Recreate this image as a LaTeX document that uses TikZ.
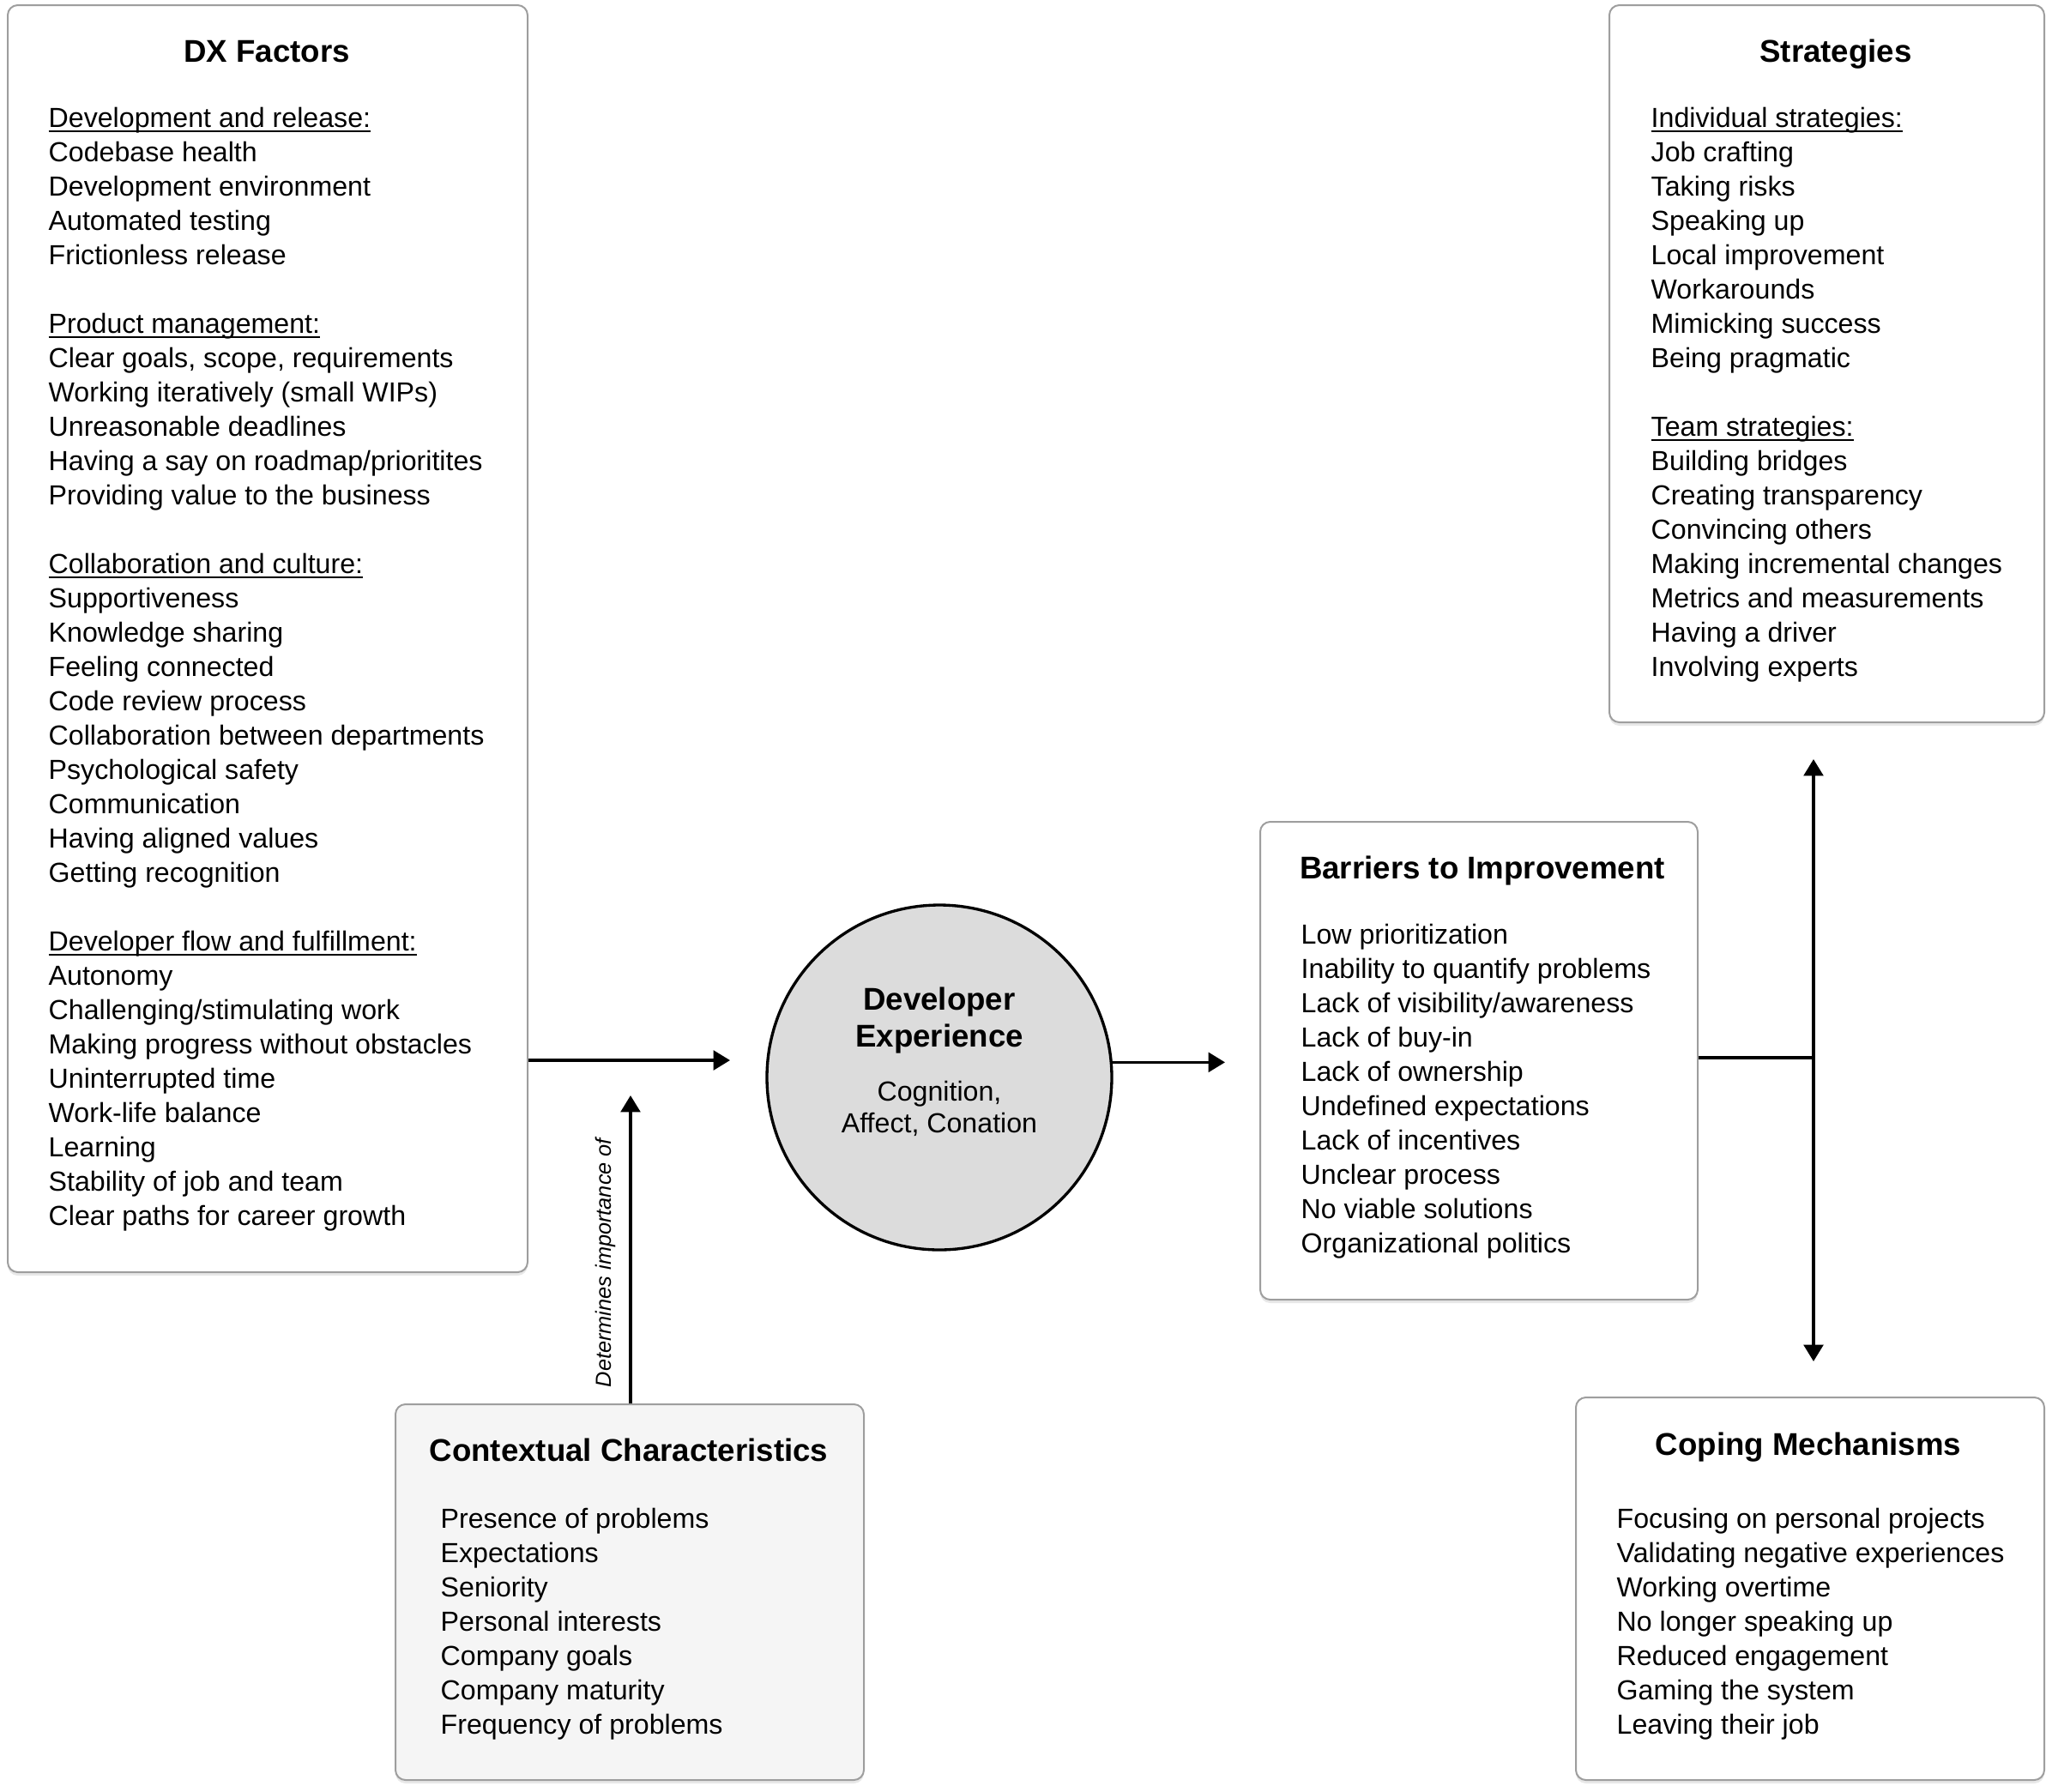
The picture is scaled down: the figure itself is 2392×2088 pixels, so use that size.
\documentclass[tikz,border=0pt]{standalone}
\usepackage{fontspec}
\setmainfont{Liberation Sans}
\usetikzlibrary{arrows.meta,shadows}
\definecolor{boxline}{HTML}{9E9E9E}
\definecolor{ctxfill}{HTML}{F5F5F5}
\definecolor{devfill}{HTML}{DCDCDC}
\newcommand\ulx[1]{\leavevmode\setbox0\hbox{#1}\rlap{\rule[-1.7pt]{\wd0}{0.55pt}}\box0}
\begin{document}
\begin{tikzpicture}[x=0.3pt,y=-0.3pt,
  panel/.style={draw=boxline, line width=0.6pt, rounded corners=3.5pt, fill=white, inner sep=0pt,
    drop shadow={opacity=0.18, shadow xshift=0pt, shadow yshift=-1.2pt}},
  ttl/.style={font=\fontsize{11pt}{13pt}\selectfont\bfseries, inner sep=0pt, anchor=base},
  item/.style={font=\fontsize{9.65pt}{12pt}\selectfont, inner sep=0pt, anchor=base west},
  citem/.style={font=\fontsize{9.65pt}{12pt}\selectfont, inner sep=0pt, anchor=base},
  arr/.style={line width=1pt, -{Triangle[length=5.8pt,width=6.8pt]}},
  conn/.style={line width=1pt}]
\useasboundingbox (0,0) rectangle (2392,2088);

% boxes
\node[panel, minimum width=181.8pt, minimum height=443.1pt] (dx) at (312,744.5) {};
\node[panel, minimum width=152.1pt, minimum height=250.8pt] (str) at (2129.5,424) {};
\node[panel, minimum width=153pt, minimum height=167.1pt] (bar) at (1724,1236.5) {};
\node[panel, fill=ctxfill, minimum width=163.8pt, minimum height=131.4pt] (ctx) at (734,1856) {};
\node[panel, minimum width=163.8pt, minimum height=133.8pt] (cop) at (2110,1852) {};
\node[circle, draw, line width=1pt, fill=devfill, minimum size=120.6pt, inner sep=0pt] (dev) at (1095,1256) {};

% titles
\node[ttl] (dxt) at (311,72) {DX Factors};
\node[ttl] (strt) at (2140,72) {Strategies};
\node[ttl] (bart) at (1728,1024) {Barriers to Improvement};
\node[ttl] (ctxt) at (733,1703) {Contextual Characteristics};
\node[ttl] (copt) at (2108,1696) {Coping Mechanisms};

% circle text
\node[ttl] (dev1) at (1095,1177) {Developer};
\node[ttl] (dev2) at (1095,1220) {Experience};
\node[citem] (dev3) at (1095,1283) {Cognition,};
\node[citem] (dev4) at (1095,1320) {Affect, Conation};

% DX factors lists
\foreach \t [count=\i from 0] in {\ulx{Development and release:}, Codebase health, Development environment, Automated testing, Frictionless release}
  \node[item] (dx\i) at (56,{148+\i*40}) {\t};
\foreach \t [count=\i from 6] in {\ulx{Product management:}, {Clear goals, scope, requirements}, Working iteratively (small WIPs), Unreasonable deadlines, Having a say on roadmap/prioritites, Providing value to the business}
  \node[item] (dx\i) at (56,{148+\i*40}) {\t};
\foreach \t [count=\i from 13] in {\ulx{Collaboration and culture:}, Supportiveness, Knowledge sharing, Feeling connected, Code review process, Collaboration between departments, Psychological safety, Communication, Having aligned values, Getting recognition}
  \node[item] (dx\i) at (56,{148+\i*40}) {\t};
\foreach \t [count=\i from 24] in {\ulx{Developer flow and fulfillment:}, Autonomy, Challenging/stimulating work, Making progress without obstacles, Uninterrupted time, Work-life balance, Learning, Stability of job and team, Clear paths for career growth}
  \node[item] (dx\i) at (56,{148+\i*40}) {\t};

% Strategies lists
\foreach \t [count=\i from 0] in {\ulx{Individual strategies:}, Job crafting, Taking risks, Speaking up, Local improvement, Workarounds, Mimicking success, Being pragmatic}
  \node[item] (st\i) at (1924,{148+\i*40}) {\t};
\foreach \t [count=\i from 9] in {\ulx{Team strategies:}, Building bridges, Creating transparency, Convincing others, Making incremental changes, Metrics and measurements, Having a driver, Involving experts}
  \node[item] (st\i) at (1924,{148+\i*40}) {\t};

% Barriers list
\foreach \t [count=\i from 0] in {Low prioritization, Inability to quantify problems, Lack of visibility/awareness, Lack of buy-in, Lack of ownership, Undefined expectations, Lack of incentives, Unclear process, No viable solutions, Organizational politics}
  \node[item] (ba\i) at (1516,{1100+\i*40}) {\t};

% Contextual list
\foreach \t [count=\i from 0] in {Presence of problems, Expectations, Seniority, Personal interests, Company goals, Company maturity, Frequency of problems}
  \node[item] (cx\i) at (513,{1781+\i*40}) {\t};

% Coping list
\foreach \t [count=\i from 0] in {Focusing on personal projects, Validating negative experiences, Working overtime, No longer speaking up, Reduced engagement, Gaming the system, Leaving their job}
  \node[item] (cp\i) at (1884,{1781+\i*40}) {\t};

% connectors
\coordinate (t1) at (851,1236);
\draw[arr] (dx.east |- t1) -- (t1);
\coordinate (t2) at (1428,1236);
\draw[arr] (dev.5.7) -- (dev.5.7 -| t2);
\coordinate (j) at (2114,1233);
\draw[conn] (bar.east |- j) -- (j);
\coordinate (tu) at (2114,885);
\coordinate (td) at (2114,1587);
\draw[arr] (j) -- (tu);
\draw[arr] (j) -- (td);
\coordinate (t5) at (735,1277);
\draw[arr] (ctx.north -| t5) -- (t5);
\node[rotate=90, font=\fontsize{7.6pt}{9pt}\selectfont\itshape, inner sep=0pt] (lbl) at (706,1472) {Determines importance of};
\end{tikzpicture}
\end{document}
